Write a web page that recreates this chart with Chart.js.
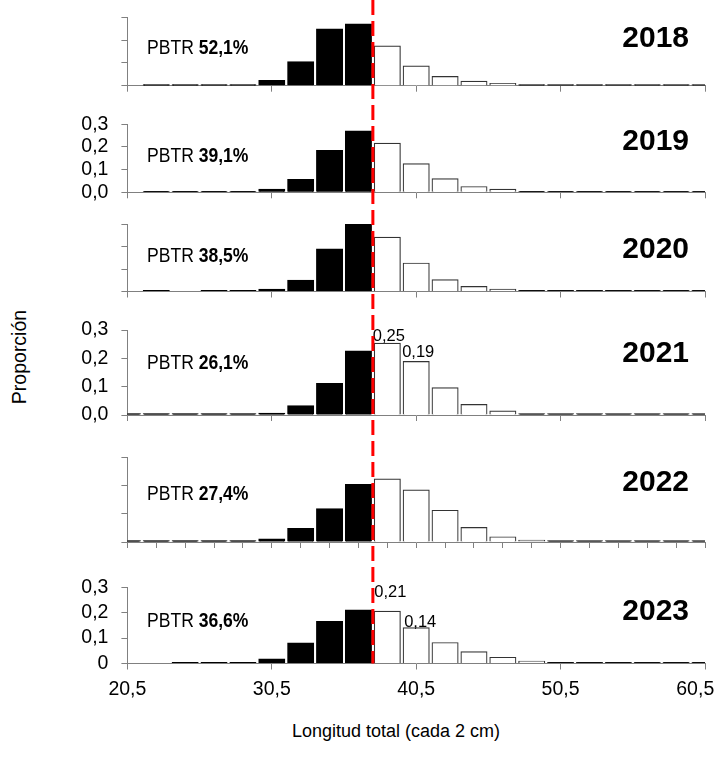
<!DOCTYPE html>
<html>
<head>
<meta charset="utf-8">
<script src="https://cdn.jsdelivr.net/npm/chart.js@4.4.1/dist/chart.umd.min.js"></script>
<style>
html,body{margin:0;padding:0;background:#fff;}
#wrap{position:relative;width:717px;height:757px;overflow:hidden;}
#wrap canvas{position:absolute;left:0;}
#ytitle{position:absolute;left:19px;top:357px;transform:translate(-50%,-50%) rotate(-90deg);
  font-family:'Liberation Sans',Arial,sans-serif;font-size:19.5px;color:#000;white-space:nowrap;}
#xtitle{position:absolute;left:396px;top:731px;transform:translate(-50%,-50%);
  font-family:'Liberation Sans',Arial,sans-serif;font-size:18px;color:#000;white-space:nowrap;}
</style>
</head>
<body>
<div id="wrap">
  <div id="ytitle">Proporción</div>
  <div id="xtitle">Longitud total (cada 2 cm)</div>
</div>
<script>
// bin centres (total length, 2 cm classes)
const bins = [20.5, 22.5, 24.5, 26.5, 28.5, 30.5, 32.5, 34.5, 36.5, 38.5, 40.5,
              42.5, 44.5, 46.5, 48.5, 50.5, 52.5, 54.5, 56.5, 58.5, 60.5];
const cutoff = 37.5;
const years = ['2018', '2019', '2020', '2021', '2022', '2023'];
const pbtr = ['52,1%', '39,1%', '38,5%', '26,1%', '27,4%', '36,6%'];

const p2018 = [null, .004, .004, .004, .004, .023, .105, .249, .271, .174, .086, .040, .019, .010, .004, .004, .004, .004, .004, .004, .004];
const p2019 = [null, .004, .004, .004, .004, .013, .057, .184, .270, .216, .126, .060, .025, .013, .004, .004, .004, .004, .004, .004, .004];
const p2020 = [null, .004, null, .004, .004, .010, .050, .189, .300, .241, .126, .052, .022, .010, .004, .004, .004, .004, .004, .004, .004];
const p2021 = [.004, .004, .004, .004, .004, .006, .033, .111, .226, .253, .189, .096, .037, .014, .004, .004, .004, .004, .004, .004, .004];
const p2022 = [.004, .004, .004, .004, .004, .011, .048, .118, .204, .223, .184, .112, .051, .018, .006, .004, .004, .004, .004, .004, .004];
const p2023 = [null, null, .004, .004, .004, .018, .081, .165, .211, .206, .141, .082, .046, .024, .009, .004, .004, .004, .004, .004, .004];
const series = [p2018, p2019, p2020, p2021, p2022, p2023];

// bars that carry a value label
const labelled = [[], [], [], [38.5, 40.5], [], [38.5, 40.5]];

const majorTicks = [20.5, 30.5, 40.5, 50.5, 60.5];
const yTicks = [0, 0.1, 0.2, 0.3];
const showYLabels = [false, true, false, true, false, true];

// layout: canvas band and plot area (page px)
const bands = [
  {top: 0,   h: 105, a: 17.3,  b: 85.7,  pb: 54,    yb: 46.7},
  {top: 105, h: 100, a: 124.3, b: 192.3, pb: 161.7, yb: 150},
  {top: 205, h: 105, a: 224,   b: 291.5, pb: 261.7, yb: 258},
  {top: 310, h: 125, a: 330,   b: 415,   pb: 369,   yb: 361.7},
  {top: 435, h: 125, a: 457.3, b: 542,   pb: 500,   yb: 490.7},
  {top: 560, h: 197, a: 587.3, b: 663.5, pb: 627.3, yb: 620}
];
const labelShift = [[], [], [], [[1.5, 2], [2, 4.5]], [], [[3, 14], [4, 1]]];

const FONT = "'Liberation Sans',Arial,sans-serif";
const AXIS = '#808080';

const comma = (v, d) => v.toFixed(d).replace('.', ',');

function squeezed(ctx, txt, x, y, sx) {
  ctx.save();
  ctx.translate(x, y);
  ctx.scale(sx, 1);
  ctx.fillText(txt, 0, 0);
  const w = ctx.measureText(txt).width * sx;
  ctx.restore();
  return w;
}

const decor = {
  id: 'decor',
  afterDatasetsDraw(chart, args, o) {
    const {ctx, chartArea, scales: {x, y}} = chart;
    const k = o.k, band = bands[k];
    ctx.save();
    ctx.fillStyle = '#000';
    ctx.textBaseline = 'alphabetic';
    // PBTR note
    ctx.textAlign = 'left';
    ctx.font = '19.5px ' + FONT;
    const w = squeezed(ctx, 'PBTR ', 147, band.pb - band.top, 0.9);
    ctx.font = 'bold 19.5px ' + FONT;
    squeezed(ctx, pbtr[k], 147 + w, band.pb - band.top, 0.9);
    // year
    ctx.textAlign = 'right';
    ctx.font = 'bold 30px ' + FONT;
    ctx.fillText(years[k], 689, band.yb - band.top);
    // value labels
    ctx.font = '16.5px ' + FONT;
    ctx.textAlign = 'center';
    labelled[k].forEach((bx, j) => {
      const v = series[k][bins.indexOf(bx)];
      const s = labelShift[k][j];
      ctx.fillText(comma(v, 2), x.getPixelForValue(bx) + s[0], y.getPixelForValue(v) - s[1]);
    });
    // size-limit line
    const px = x.getPixelForValue(cutoff);
    ctx.strokeStyle = '#ff0000';
    ctx.lineWidth = 3;
    ctx.setLineDash([15, 6]);
    ctx.lineDashOffset = band.top;
    ctx.beginPath();
    ctx.moveTo(px, 0);
    ctx.lineTo(px, o.last ? chartArea.bottom : chart.height);
    ctx.stroke();
    ctx.restore();
  }
};

const wrap = document.getElementById('wrap');
years.forEach((yr, k) => {
  const band = bands[k];
  const last = k === years.length - 1;
  const cv = document.createElement('canvas');
  cv.width = 717; cv.height = band.h;
  cv.style.top = band.top + 'px';
  wrap.appendChild(cv);
  const xTickVals = k === 4 ? bins : majorTicks;
  new Chart(cv, {
    type: 'bar',
    data: {
      datasets: [{
        data: bins.map((b, i) => ({x: b, y: series[k][i]})),
        backgroundColor: c => (c.raw.x < cutoff || c.raw.y < 0.005) ? '#000' : '#fff',
        borderColor: c => c.raw.x < cutoff ? '#000' : '#333',
        borderWidth: 1.2,
        barPercentage: 0.9,
        categoryPercentage: 1,
        inflateAmount: 0.5,
        clip: 0
      }]
    },
    options: {
      responsive: false,
      animation: false,
      devicePixelRatio: 1,
      layout: {padding: {left: 0, right: 12, top: band.a - band.top, bottom: 0}},
      plugins: {legend: {display: false}, tooltip: {enabled: false}, decor: {k, last}},
      scales: {
        x: {
          type: 'linear', min: 20.5, max: 60.5, offset: false,
          afterBuildTicks: s => { s.ticks = xTickVals.map(v => ({value: v})); },
          afterFit: s => { s.height = band.top + band.h - band.b; s.paddingLeft = 0; s.paddingRight = 0; },
          grid: {display: true, drawOnChartArea: false, drawTicks: true, tickLength: 6, color: AXIS, offset: false},
          border: {display: true, color: AXIS, width: 1},
          ticks: {
            autoSkip: false, maxRotation: 0, padding: 8, color: '#000',
            font: {family: FONT, size: 19.5},
            // last label is kept inside the page, as in the source
            callback: v => last ? comma(v, 1) + (v === 60.5 ? '\u2003' : '') : ''
          }
        },
        y: {
          min: 0, max: 0.3,
          afterBuildTicks: s => { s.ticks = yTicks.map(v => ({value: v})); },
          afterFit: s => { s.width = 127.4; s.paddingTop = 0; s.paddingBottom = 0; },
          grid: {display: true, drawOnChartArea: false, drawTicks: true, tickLength: 6, color: AXIS},
          border: {display: true, color: AXIS, width: 1},
          ticks: {
            autoSkip: false, padding: 13, color: '#000', font: {family: FONT, size: 19.5},
            callback: v => showYLabels[k] ? (last && v === 0 ? '0' : comma(v, 1)) : ''
          }
        }
      }
    },
    plugins: [decor]
  });
});
</script>
</body>
</html>
